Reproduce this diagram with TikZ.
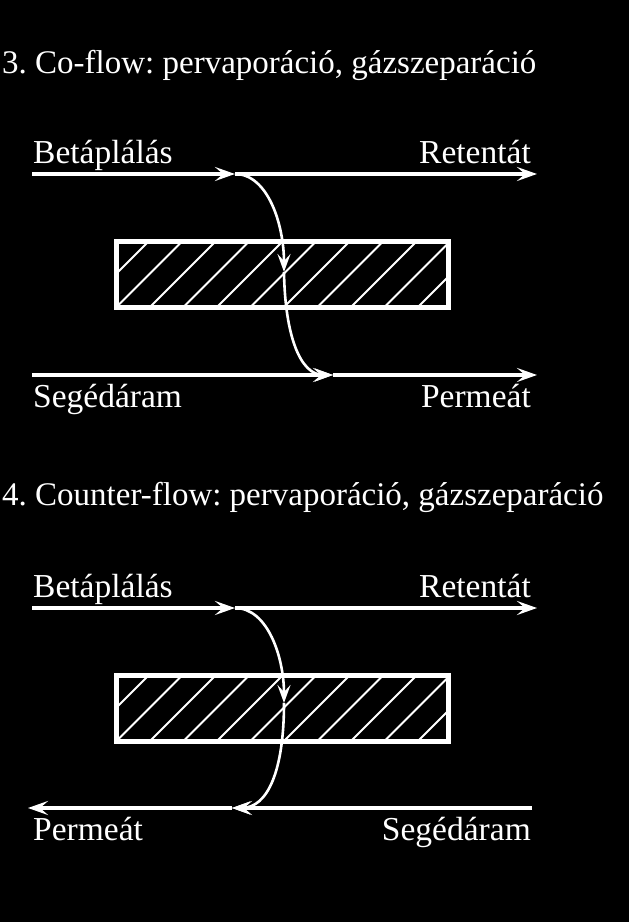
\documentclass[tikz,border=0pt]{standalone}
\usepackage{fontspec}
\setmainfont{Liberation Serif}
\usetikzlibrary{arrows.meta, positioning}
\tikzset{
    stream/.style={white, line width=3.2pt, -{Stealth[length=20pt, width=14pt, inset=8pt]}}, % the straight streams
    pass/.style={white, line width=2.6pt, -{Stealth[length=18pt, width=13pt, inset=7pt]}}, % flux through the membrane
    membrane/.style={draw=white, line width=5pt, minimum width=332.5pt, minimum height=66pt, inner sep=0pt,
        path picture={\foreach \k in {-2,...,10}
            \draw[white, line width=2pt] ([xshift=\k*33.5pt]path picture bounding box.south west) -- ++(80pt,80pt);}}, % hatched membrane
    lbl/.style={text=white, inner sep=0pt, font=\fontsize{33.5}{40}\selectfont, text height=23.5pt, text depth=7.4pt}, % stream names
    title/.style={lbl, font=\fontsize{33}{40}\selectfont\frenchspacing}, % panel headings
}

\begin{document}
\begin{tikzpicture}[x=1pt, y=1pt]
\fill[black] (0,0) rectangle (629,922);
\useasboundingbox (0,0) rectangle (629,922);
% 3. co-flow
\node[title, anchor=base west] (titleA) at (2,848) {3. Co-flow: pervaporáció, gázszeparáció};
\coordinate (inA) at (32,748);
\coordinate (splitA) at (235,748);
\coordinate (retA) at (537,748);
\coordinate (auxA) at (32,547);
\coordinate (joinA) at (333,547);
\coordinate (permA) at (537,547);
\coordinate (dropA) at (284,650);
\node[membrane] (memA) at (282.25,647.5) {};
\node[lbl, above right=2.6pt and 1pt of inA] (feedlA) {Betáplálás};
\node[lbl, above left=2.6pt and 6pt of retA] (retlA) {Retentát};
\node[lbl, below right=8.5pt and 1pt of auxA] (auxlA) {Segédáram};
\node[lbl, below left=8.5pt and 6pt of permA] (permlA) {Permeát};
\draw[stream] (inA) -- (splitA);
\draw[stream] (splitA) -- (retA);
\draw[stream] (auxA) -- (joinA);
\draw[stream] (joinA) -- (permA);
\draw[pass] (splitA) .. controls +(33,0) and +(0,47) .. (dropA);
\draw[pass] (dropA) .. controls +(1,-63) and +(-33,0) .. (joinA);
% 4. counter-flow
\node[title, anchor=base west] (titleB) at (2,416) {4. Counter-flow: pervaporáció, gázszeparáció};
\coordinate (inB) at (32,314);
\coordinate (splitB) at (235,314);
\coordinate (retB) at (537,314);
\coordinate (auxB) at (532,114);
\coordinate (joinB) at (232,114);
\coordinate (permB) at (28,114);
\coordinate (dropB) at (284,219);
\node[membrane] (memB) at (282.25,213.5) {};
\node[lbl, above right=3pt and 1pt of inB] (feedlB) {Betáplálás};
\node[lbl, above left=3pt and 6pt of retB] (retlB) {Retentát};
\node[lbl, below right=8.5pt and 5pt of permB] (permlB) {Permeát};
\node[lbl, below left=8.5pt and 1pt of auxB] (auxlB) {Segédáram};
\draw[stream] (inB) -- (splitB);
\draw[stream] (splitB) -- (retB);
\draw[stream] (auxB) -- (joinB);
\draw[stream] (joinB) -- (permB);
\draw[pass] (splitB) .. controls +(33,0) and +(0,45) .. (dropB);
\draw[pass] (dropB) .. controls +(0,-67) and +(36,0) .. (joinB);
\end{tikzpicture}
\end{document}
